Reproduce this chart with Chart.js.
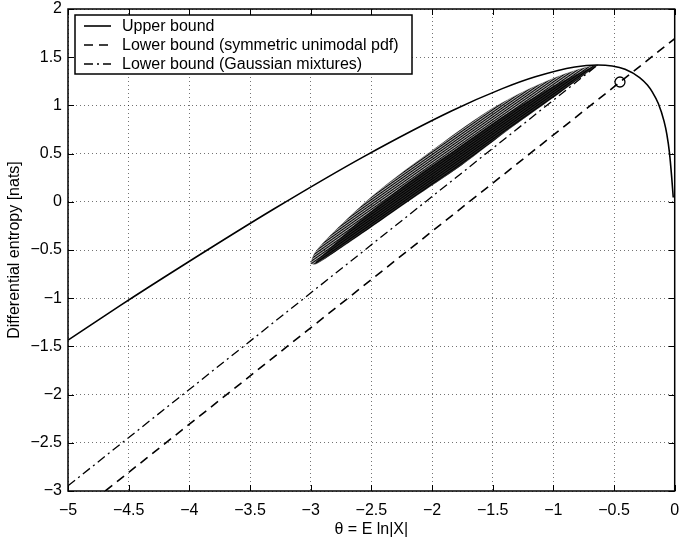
<!DOCTYPE html>
<html>
<head>
<meta charset="utf-8">
<script src="https://cdn.jsdelivr.net/npm/chart.js@4/dist/chart.umd.min.js"></script>
<style>
html, body { margin: 0; padding: 0; background: #fff; }
</style>
</head>
<body>
<canvas id="c" width="681" height="539"></canvas>
<script>
// upper bound (max entropy for given theta)
var upperTheta = [-5.0, -4.571, -4.061, -3.304, -2.562, -1.840, -1.421, -1.149, -0.823, -0.635, -0.515, -0.409, -0.289, -0.225, -0.185, -0.135, -0.088, -0.065, -0.043, -0.025, -0.012];
var upperH     = [-1.435, -1.077, -0.666, -0.075, 0.469, 0.942, 1.174, 1.297, 1.399, 1.419, 1.408, 1.374, 1.289, 1.211, 1.140, 1.019, 0.837, 0.702, 0.508, 0.259, 0.045];

// lower bounds
var symTheta = [-4.693, 0];
var symH     = [-3, 1.693];
var mixTheta = [-5, -0.635];
var mixH     = [-2.946, 1.419];

// outline of the family of mixture loops (upper edge, then lower edge back)
var loopTheta = [-3.0, -2.97, -2.9, -2.75, -2.5, -2.25, -2.0, -1.75, -1.5, -1.25, -1.0, -0.8, -0.635,
                 -0.69, -0.936, -1.347, -1.757, -2.167, -2.578, -2.8, -2.958, -3.0];
var loopH     = [-0.64, -0.54, -0.43, -0.24, 0.05, 0.30, 0.53, 0.76, 0.97, 1.14, 1.28, 1.37, 1.419,
                 1.37, 1.14, 0.77, 0.38, 0.03, -0.33, -0.52, -0.646, -0.64];
// darker band along the lower side of the loops
var bandTheta = [-2.958, -2.6, -2.2, -1.8, -1.4, -1.0, -0.75, -0.635,
                 -0.69, -0.936, -1.347, -1.757, -2.167, -2.578, -2.8, -2.958];
var bandH     = [-0.62, -0.2, 0.2, 0.55, 0.9, 1.2, 1.36, 1.419,
                 1.37, 1.14, 0.77, 0.38, 0.03, -0.33, -0.52, -0.646];

// uniform pdf marker
var uniTheta = [-0.451];
var uniH     = [1.2425];

var labels = ['Upper bound', 'Lower bound (symmetric unimodal pdf)', 'Lower bound (Gaussian mixtures)'];

function pts(xs, ys) {
    return xs.map(function(v, i) { return {x: v, y: ys[i]}; });
}

function stripes() {
    var t = document.createElement('canvas');
    t.width = 8; t.height = 2;
    var g = t.getContext('2d');
    g.fillStyle = '#000';
    g.fillRect(0, 0, 8, 1);
    g.fillStyle = 'rgba(0,0,0,0.3)';
    g.fillRect(0, 1, 8, 1);
    var p = document.getElementById('c').getContext('2d').createPattern(t, 'repeat');
    p.setTransform(new DOMMatrix().rotate(-35));
    return p;
}

var FONT = 'Liberation Sans, Arial, Helvetica, sans-serif';
var minus = function(v) { return String(v).replace('-', '\u2212'); };

var frame = {
    id: 'frame',
    afterDatasetsDraw: function(chart) {
        var ctx = chart.ctx, a = chart.chartArea, x = chart.scales.x, y = chart.scales.y;
        ctx.save();
        ctx.strokeStyle = '#000';
        ctx.lineWidth = 1;
        ctx.beginPath();
        x.ticks.forEach(function(t) {
            var px = Math.round(x.getPixelForValue(t.value)) + 0.5;
            ctx.moveTo(px, a.bottom); ctx.lineTo(px, a.bottom - 6);
            ctx.moveTo(px, a.top); ctx.lineTo(px, a.top + 6);
        });
        y.ticks.forEach(function(t) {
            var py = Math.round(y.getPixelForValue(t.value)) + 0.5;
            ctx.moveTo(a.left, py); ctx.lineTo(a.left + 6, py);
            ctx.moveTo(a.right, py); ctx.lineTo(a.right - 6, py);
        });
        ctx.stroke();
        ctx.lineWidth = 1.5;
        ctx.strokeRect(a.left, a.top, a.right - a.left, a.bottom - a.top);

        // legend box
        var bx = 75, by = 15, bw = 337, bh = 59;
        ctx.fillStyle = '#fff';
        ctx.fillRect(bx, by, bw, bh);
        ctx.lineWidth = 1.5;
        ctx.strokeRect(bx, by, bw, bh);
        ctx.font = '16px ' + FONT;
        ctx.textBaseline = 'middle';
        for (var i = 0; i < 3; i++) {
            var ds = chart.data.datasets[i];
            var ly = by + 11 + i * 19;
            ctx.beginPath();
            ctx.setLineDash(ds.borderDash || []);
            ctx.lineWidth = ds.borderWidth;
            ctx.moveTo(84, ly); ctx.lineTo(111, ly);
            ctx.stroke();
            ctx.setLineDash([]);
            ctx.fillStyle = '#000';
            ctx.fillText(ds.label, 122, ly + 1);
        }
        ctx.restore();
    }
};

new Chart(document.getElementById('c'), {
    type: 'scatter',
    data: {
        datasets: [{
            label: labels[0],
            data: pts(upperTheta, upperH),
            showLine: true, borderColor: '#000', borderWidth: 1.6,
            pointRadius: 0, cubicInterpolationMode: 'monotone'
        }, {
            label: labels[1],
            data: pts(symTheta, symH),
            showLine: true, borderColor: '#000', borderWidth: 1.6,
            borderDash: [9, 6], pointRadius: 0
        }, {
            label: labels[2],
            data: pts(mixTheta, mixH),
            showLine: true, borderColor: '#000', borderWidth: 1.3,
            borderDash: [9, 4, 2, 4], pointRadius: 0
        }, {
            label: 'loops',
            data: pts(loopTheta, loopH),
            showLine: true, borderColor: 'rgba(0,0,0,0.5)', borderWidth: 0.6,
            backgroundColor: stripes(), fill: 'shape', tension: 0.3, pointRadius: 0
        }, {
            label: 'band',
            data: pts(bandTheta, bandH),
            showLine: true, borderWidth: 0, borderColor: 'rgba(0,0,0,0)',
            backgroundColor: 'rgba(10,10,10,0.8)', fill: 'shape', tension: 0.3, pointRadius: 0
        }, {
            label: 'uniform',
            data: pts(uniTheta, uniH),
            pointRadius: 5, pointBackgroundColor: '#fff', pointBorderColor: '#000', pointBorderWidth: 1.3
        }]
    },
    options: {
        responsive: false,
        animation: false,
        layout: { padding: { left: 0, right: 4, top: 9, bottom: 0 } },
        plugins: { legend: { display: false }, tooltip: { enabled: false } },
        scales: {
            x: {
                type: 'linear', position: 'bottom', min: -5, max: 0,
                ticks: { stepSize: 0.5, color: '#000', font: { family: FONT, size: 16 }, padding: 10, maxRotation: 0, callback: minus },
                grid: { color: 'rgba(0,0,0,0.55)', drawTicks: false, lineWidth: 1 },
                border: { display: false, dash: [1, 3] },
                title: { display: true, text: '\u03b8 = E ln|X|', color: '#000', font: { family: FONT, size: 16 }, padding: { top: 0, bottom: 0 } },
                afterFit: function(s) { s.height = 48; s.paddingLeft = 0; s.paddingRight = 0; }
            },
            y: {
                type: 'linear', position: 'left', min: -3, max: 2,
                ticks: { stepSize: 0.5, color: '#000', font: { family: FONT, size: 16 }, padding: 6, callback: minus },
                grid: { color: 'rgba(0,0,0,0.55)', drawTicks: false, lineWidth: 1 },
                border: { display: false, dash: [1, 3] },
                title: { display: true, text: 'Differential entropy [nats]', color: '#000', font: { family: FONT, size: 16 }, padding: { top: 5, bottom: 0 } },
                afterFit: function(s) { s.width = 68; s.paddingTop = 0; s.paddingBottom = 0; }
            }
        }
    },
    plugins: [frame]
});
</script>
</body>
</html>
